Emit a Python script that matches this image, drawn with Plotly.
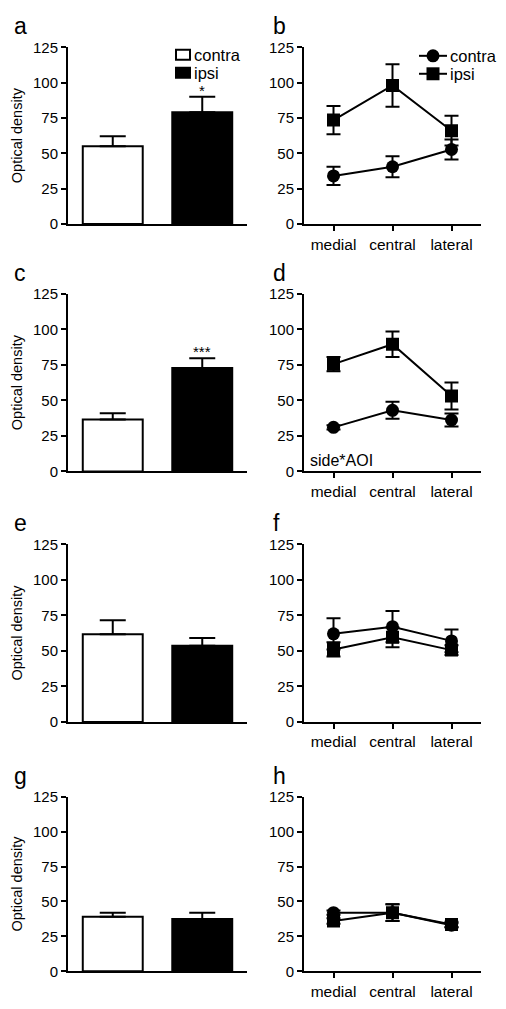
import plotly.graph_objects as go

sides = ["contra", "ipsi"]
regions = ["medial", "central", "lateral"]
panel_letters = ["a", "b", "c", "d", "e", "f", "g", "h"]

# bar panels (a, c, e, g): mean and SEM for contra / ipsi
bar_mean = {"a": [55, 79], "c": [36.5, 72.7], "e": [61.6, 53.6], "g": [39, 37.5]}
bar_sem = {"a": [7, 11], "c": [4.5, 7], "e": [10, 5.5], "g": [3, 4.5]}
bar_sig = {"a": "*", "c": "***", "e": "", "g": ""}

# line panels (b, d, f, h): by region
contra_mean = {"b": [34, 40.5, 52.7], "d": [31, 43, 36.2], "f": [62, 67, 57], "h": [42, 42, 33]}
contra_sem = {"b": [6.5, 7.5, 7], "d": [1.5, 6, 4.6], "f": [11, 11, 8], "h": [1.5, 6, 1.5]}
ipsi_mean = {"b": [73.5, 98, 66], "d": [75.5, 89.5, 53], "f": [51, 59.5, 50.5], "h": [36, 42, 33.5]}
ipsi_sem = {"b": [10, 15, 10.5], "d": [5, 9, 9.5], "f": [5, 7, 3.5], "h": [2, 6, 2]}

y_ticks = [0, 25, 50, 75, 100, 125]

OFF = 8
W, H = 506 - 2 * OFF, 1009 - 2 * OFF
FONT = "Liberation Sans, Arial, sans-serif"

# mapping from target screen pixels to paper fractions
VOFF, VSCALE = 15.6, 0.985


def fx(s):
    return (s - OFF) / W


def fy(s):
    return 1 - ((s - VOFF) / VSCALE) / H


left_x = (68, 247)
right_x = (304, 481)
rows_px = [(46, 223), (293, 471), (544, 722), (797, 972)]

fig = go.Figure()
annotations = []
shapes = []

for r, (top, bot) in enumerate(rows_px):
    bl = panel_letters[2 * r]
    ll = panel_letters[2 * r + 1]
    ax_l = 2 * r + 1
    ax_r = 2 * r + 2
    xl = "x" if ax_l == 1 else f"x{ax_l}"
    yl = "y" if ax_l == 1 else f"y{ax_l}"
    xr = f"x{ax_r}"
    yr = f"y{ax_r}"

    # bar panel
    for i, s in enumerate(sides):
        fig.add_trace(go.Bar(
            x=[s], y=[bar_mean[bl][i]], name=s,
            marker=dict(color="white" if s == "contra" else "black",
                        line=dict(color="black", width=2)),
            width=0.67,
            error_y=dict(type="data", symmetric=False, array=[bar_sem[bl][i]],
                         arrayminus=[0], color="black", thickness=2, width=13),
            showlegend=False, xaxis=xl, yaxis=yl,
        ))
    if bar_sig[bl]:
        annotations.append(dict(
            x="ipsi", y=bar_mean[bl][1] + bar_sem[bl][1], xref=xl, yref=yl,
            text=bar_sig[bl], showarrow=False, yanchor="bottom", yshift=-4,
            font=dict(family=FONT, size=15, color="black")))

    # line panel
    for name, m, e, sym in [("contra", contra_mean, contra_sem, "circle"),
                            ("ipsi", ipsi_mean, ipsi_sem, "square")]:
        fig.add_trace(go.Scatter(
            x=regions, y=m[ll], name=name, mode="lines+markers",
            line=dict(color="black", width=2),
            marker=dict(symbol=sym, size=13, color="black"),
            error_y=dict(type="data", array=e[ll], color="black", thickness=2, width=7),
            showlegend=False, xaxis=xr, yaxis=yr,
        ))

    yaxis_common = dict(range=[0, 125], tickvals=y_ticks, ticks="outside", ticklen=5,
                        tickwidth=2, tickcolor="black", showline=True, linewidth=2,
                        linecolor="black", showgrid=False, zeroline=False,
                        tickfont=dict(family=FONT, size=15, color="black"),
                        domain=[fy(bot), fy(top)])
    lkey = "yaxis" if ax_l == 1 else f"yaxis{ax_l}"
    fig.layout[lkey] = dict(**yaxis_common, anchor=xl,
                            title=dict(text="Optical density", standoff=7,
                                       font=dict(family=FONT, size=14.5, color="black")))
    fig.layout[f"yaxis{ax_r}"] = dict(**yaxis_common, anchor=xr)
    xkl = "xaxis" if ax_l == 1 else f"xaxis{ax_l}"
    fig.layout[xkl] = dict(domain=[fx(left_x[0]), fx(left_x[1])], range=[-0.5, 1.5],
                           type="category", showline=True, linewidth=2, linecolor="black",
                           showticklabels=False, ticks="", showgrid=False, anchor=yl)
    fig.layout[f"xaxis{ax_r}"] = dict(domain=[fx(right_x[0]), fx(right_x[1])], range=[-0.5, 2.5],
                                      type="category", showline=True, linewidth=2,
                                      linecolor="black", ticks="outside", ticklen=5,
                                      tickwidth=2, tickcolor="black",
                                      tickfont=dict(family=FONT, size=15.5, color="black"),
                                      showgrid=False, anchor=yr)

    # panel letters
    annotations.append(dict(x=fx(12), y=fy(top - 21), xref="paper", yref="paper",
                            text=bl, showarrow=False, xanchor="left", yanchor="middle",
                            font=dict(family=FONT, size=23, color="black")))
    annotations.append(dict(x=fx(271), y=fy(top - 21), xref="paper", yref="paper",
                            text=ll, showarrow=False, xanchor="left", yanchor="middle",
                            font=dict(family=FONT, size=23, color="black")))

annotations.append(dict(x=fx(308), y=fy(460), xref="paper", yref="paper", text="side*AOI",
                        showarrow=False, xanchor="left", yanchor="middle",
                        font=dict(family=FONT, size=16, color="black")))

# legend for panel a (bar keys)
for s, yc, fill in [("contra", 53.5, "white"), ("ipsi", 71.5, "black")]:
    shapes.append(dict(type="rect", xref="paper", yref="paper",
                       x0=fx(176), x1=fx(190), y0=fy(yc - 5), y1=fy(yc + 5),
                       fillcolor=fill, line=dict(color="black", width=2)))
    annotations.append(dict(x=fx(192), y=fy(yc), xref="paper", yref="paper", text=s,
                            showarrow=False, xanchor="left", yanchor="middle",
                            font=dict(family=FONT, size=16.5, color="black")))

# legend for panel b (line + marker keys)
for s, yc, kind in [("contra", 54.5, "circle"), ("ipsi", 72.5, "rect")]:
    shapes.append(dict(type="line", xref="paper", yref="paper",
                       x0=fx(419), x1=fx(447), y0=fy(yc), y1=fy(yc),
                       line=dict(color="black", width=2)))
    shapes.append(dict(type=kind, xref="paper", yref="paper",
                       x0=fx(426.5), x1=fx(439.5), y0=fy(yc - 6.5), y1=fy(yc + 6.5),
                       fillcolor="black", line=dict(color="black", width=0)))
    annotations.append(dict(x=fx(448), y=fy(yc), xref="paper", yref="paper", text=s,
                            showarrow=False, xanchor="left", yanchor="middle",
                            font=dict(family=FONT, size=16.5, color="black")))

fig.update_layout(
    width=W, height=H, margin=dict(l=0, r=0, t=0, b=0),
    paper_bgcolor="white", plot_bgcolor="white",
    barmode="overlay", showlegend=False,
    annotations=annotations, shapes=shapes,
    font=dict(family=FONT, color="black"),
)

fig.write_html("out.html")
